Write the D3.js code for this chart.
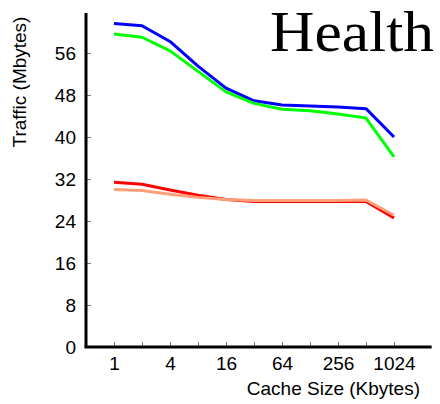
<!DOCTYPE html>
<html>
<head>
<meta charset="utf-8">
<script src="https://cdn.jsdelivr.net/npm/d3@7"></script>
<style>
  body { margin: 0; background: #fff; }
  svg { display: block; }
  text { font-family: "Liberation Sans", Arial, sans-serif; }
</style>
</head>
<body>
<div id="chart"></div>
<script>
// cache sizes (Kbytes), one point per doubling
const cacheSizes = [1, 2, 4, 8, 16, 32, 64, 128, 256, 512, 1024];
const labelledSizes = [1, 4, 16, 64, 256, 1024];
const yTicks = [0, 8, 16, 24, 32, 40, 48, 56];

// traffic in Mbytes
const blueSeries   = [61.6, 61.2, 58.2, 53.5, 49.3, 46.9, 46.1, 45.9, 45.7, 45.4, 40.0];
const greenSeries  = [59.6, 59.0, 56.4, 52.5, 48.6, 46.4, 45.3, 45.0, 44.4, 43.6, 36.2];
const redSeries    = [31.4, 31.0, 29.9, 28.9, 28.1, 27.7, 27.7, 27.7, 27.7, 27.7, 24.6];
const salmonSeries = [30.0, 29.8, 29.1, 28.5, 28.1, 27.9, 27.9, 27.9, 27.9, 28.0, 25.1];

const series = [
  { key: 'blue', values: blueSeries, color: '#0000ff' },
  { key: 'green', values: greenSeries, color: '#00ff00' },
  { key: 'red', values: redSeries, color: '#ff0000' },
  { key: 'salmon', values: salmonSeries, color: '#ffa07a' },
];

const width = 440, height = 404;
const svg = d3.select('#chart').append('svg')
  .attr('width', width).attr('height', height);

const x = d3.scaleLog().base(2).domain([1, 1024]).range([114, 394]);
const y = d3.scaleLinear().domain([0, 64]).range([347, 11]);

// lines
const line = d3.line()
  .x((d, i) => x(cacheSizes[i]))
  .y(d => y(d));

svg.append('g').selectAll('path')
  .data(series)
  .join('path')
  .attr('d', d => line(d.values))
  .attr('fill', 'none')
  .attr('stroke', d => d.color)
  .attr('stroke-width', 3)
  .attr('stroke-linejoin', 'round');

// y axis
const yAxis = svg.append('g').attr('transform', `translate(${x(0.5)},0)`)
  .call(d3.axisLeft(y).tickValues(yTicks).tickSize(-5).tickPadding(10));
yAxis.select('.domain').remove();
yAxis.selectAll('.tick line').attr('stroke', '#777');
yAxis.selectAll('.tick text').attr('font-size', 19).attr('font-family', '"Liberation Sans", Arial, sans-serif').attr('fill', '#000');
svg.append('line')
  .attr('x1', x(0.5)).attr('x2', x(0.5))
  .attr('y1', y(0)).attr('y2', y(63.6))
  .attr('stroke', '#000').attr('stroke-width', 3);

// x axis
const xAxis = svg.append('g').attr('transform', `translate(0,${y(0)})`)
  .call(d3.axisBottom(x).tickValues(cacheSizes).tickSize(-5).tickPadding(10)
    .tickFormat(d => labelledSizes.includes(d) ? d : ''));
xAxis.select('.domain').remove();
xAxis.selectAll('.tick line').attr('stroke', '#777');
xAxis.selectAll('.tick text').attr('font-size', 19).attr('font-family', '"Liberation Sans", Arial, sans-serif').attr('fill', '#000');
svg.append('line')
  .attr('x1', x(0.5) - 1.5).attr('x2', x(2600))
  .attr('y1', y(0)).attr('y2', y(0))
  .attr('stroke', '#000').attr('stroke-width', 3);

// labels
svg.append('text')
  .attr('transform', 'translate(26,82) rotate(-90)')
  .attr('text-anchor', 'middle')
  .attr('font-size', 19)
  .text('Traffic (Mbytes)');

svg.append('text')
  .attr('x', 420).attr('y', 395)
  .attr('text-anchor', 'end')
  .attr('font-size', 19)
  .text('Cache Size (Kbytes)');

svg.append('text')
  .attr('x', 434).attr('y', 51)
  .attr('text-anchor', 'end')
  .attr('font-size', 57)
  .attr('textLength', 164)
  .attr('lengthAdjust', 'spacingAndGlyphs')
  .style('font-family', '"Liberation Serif", "Times New Roman", serif')
  .text('Health');
</script>
</body>
</html>
